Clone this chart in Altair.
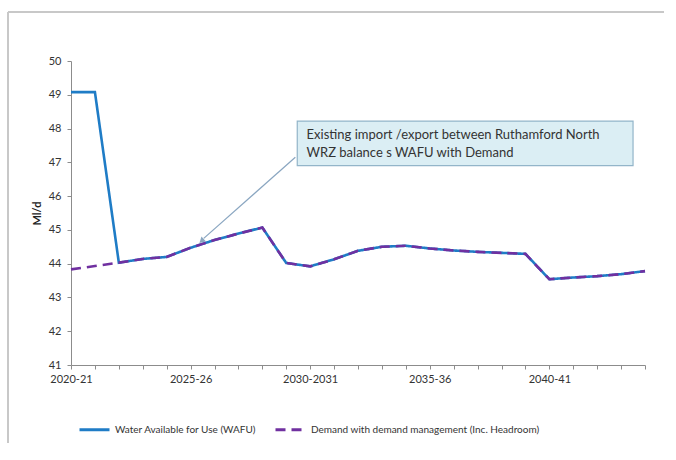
import altair as alt
import pandas as pd

# ---------------- data ----------------
year_labels = ["2020-21", "2021-22", "2022-23", "2023-24", "2024-25",
               "2025-26", "2026-27", "2027-28", "2028-29", "2029-30",
               "2030-2031", "2031-32", "2032-33", "2033-34", "2034-35",
               "2035-36", "2036-37", "2037-38", "2038-39", "2039-40",
               "2040-41", "2041-42", "2042-43", "2043-44", "2044-45"]

wafu = [49.08, 49.08, 44.03, 44.14, 44.20, 44.47, 44.70, 44.89, 45.07, 44.02,
        43.92, 44.13, 44.38, 44.50, 44.53, 44.45, 44.39, 44.35, 44.32, 44.29,
        43.54, 43.59, 43.63, 43.69, 43.78]

demand = [43.83, 43.93, 44.03, 44.14, 44.20, 44.47, 44.70, 44.89, 45.07, 44.02,
          43.92, 44.13, 44.38, 44.50, 44.53, 44.45, 44.39, 44.35, 44.32, 44.29,
          43.54, 43.59, 43.63, 43.69, 43.78]

series_names = ["Water Available for Use (WAFU)",
                "Demand with demand management (Inc. Headroom)"]

annotation_lines = ["Existing import /export between Ruthamford North",
                    "WRZ balance s WAFU with Demand"]

FONT = "Lato"
BLUE = "#1f7cc6"
PURPLE = "#7030a0"

idx = list(range(len(year_labels)))
df = pd.DataFrame({
    "idx": idx + idx,
    "value": wafu + demand,
    "series": [series_names[0]] * len(idx) + [series_names[1]] * len(idx),
})

W, H = 574, 304
xscale = alt.Scale(domain=[0, 24], nice=False, zero=False)
yscale = alt.Scale(domain=[41, 50], nice=False, zero=False)

arr = "[" + ",".join("'%s'" % l for l in year_labels) + "]"
label_expr = "datum.value % 5 == 0 ? " + arr + "[datum.value] : ''"

color_scale = alt.Scale(domain=series_names, range=[BLUE, PURPLE])
dash_scale = alt.Scale(domain=series_names, range=[[1, 0], [10, 6]])

x_axis = alt.Axis(values=idx, labelExpr=label_expr, grid=False, title=None,
                  labelFont=FONT, labelFontSize=11, labelColor="#333333",
                  domainColor="#8c8c8c", tickColor="#8c8c8c", tickSize=4,
                  labelPadding=4, labelFlush=False, labelOverlap=False)
y_axis = alt.Axis(values=list(range(41, 51)), grid=False, title="Ml/d",
                  labelFont=FONT, labelFontSize=11, labelColor="#333333",
                  labelOverlap=False,
                  domainColor="#8c8c8c", tickColor="#8c8c8c", tickSize=4,
                  labelPadding=6, titleFont=FONT, titleFontSize=11,
                  titleFontWeight="bold", titleColor="#222222",
                  titleX=-34, titleY=H / 2, titleAngle=-90,
                  titleAlign="center", titleBaseline="middle")

x_enc = alt.X("idx:Q", scale=xscale, title=None, axis=x_axis)
y_enc = alt.Y("value:Q", scale=yscale, title="Ml/d", axis=y_axis)

legend = alt.Legend(orient="none", legendX=7, legendY=352, direction="horizontal",
                    title=None, symbolType="stroke", symbolSize=900,
                    symbolStrokeWidth=3, labelFont=FONT, labelFontSize=10,
                    labelColor="#333333", columnPadding=12, labelLimit=400)

color_enc = alt.Color("series:N", scale=color_scale, legend=legend)
dash_enc = alt.StrokeDash("series:N", scale=dash_scale, legend=legend)

wafu_line = alt.Chart(df).transform_filter(
    alt.datum.series == series_names[0]
).mark_line(strokeWidth=2.6).encode(x=x_enc, y=y_enc, color=color_enc, strokeDash=dash_enc)

demand_line = alt.Chart(df).transform_filter(
    alt.datum.series == series_names[1]
).mark_line(strokeWidth=2.6).encode(x=x_enc, y=y_enc, color=color_enc, strokeDash=dash_enc)

# annotation (data coordinates, sharing the same scales/axes)
ax = alt.X("x:Q", scale=xscale, title=None, axis=x_axis)
ay = alt.Y("y:Q", scale=yscale, title="Ml/d", axis=y_axis)

box_df = pd.DataFrame({"x": [9.46], "x2": [23.5], "y": [48.22], "y2": [46.90]})
box = alt.Chart(box_df).mark_rect(fill="#dbeef4", stroke="#93b5c9", strokeWidth=1.2).encode(
    x=ax, x2="x2:Q", y=ay, y2="y2:Q")

text_df = pd.DataFrame({"x": [9.85, 9.85], "y": [47.80, 47.27], "t": annotation_lines})
text = alt.Chart(text_df).mark_text(align="left", baseline="middle", font=FONT,
                                    fontSize=13, color="#333333").encode(
    x=ax, y=ay, text="t:N")

arrow_df = pd.DataFrame({"x": [9.38], "y": [47.15], "x2": [5.55], "y2": [44.75]})
arrow = alt.Chart(arrow_df).mark_rule(color="#8aa6c1", strokeWidth=1.2).encode(
    x=ax, y=ay, x2="x2:Q", y2="y2:Q")

head_df = pd.DataFrame({"x": [5.49], "y": [44.69]})
head = alt.Chart(head_df).mark_point(shape="triangle", filled=True, size=45,
                                     color="#8aa6c1", opacity=1, angle=228).encode(
    x=ax, y=ay)

# outer frame (top and left edges only; the rest lies outside the picture)
frame_df = pd.DataFrame({"a": [0]})
frame_top = alt.Chart(frame_df).mark_rule(color="#c8c8c8", strokeWidth=2).encode(
    x=alt.value(-63), x2=alt.value(600), y=alt.value(-49))
frame_left = alt.Chart(frame_df).mark_rule(color="#c8c8c8", strokeWidth=2).encode(
    x=alt.value(-63), y=alt.value(-49), y2=alt.value(382))

chart = alt.layer(frame_top, frame_left, wafu_line, demand_line, box, text, arrow, head).properties(
    width=W, height=H,
    autosize=alt.AutoSizeParams(type="none"),
    padding={"left": 71, "top": 61, "right": 19, "bottom": 78},
    background="white",
).configure_view(stroke=None)

chart.save("out.html", embed_options={"renderer": "svg", "actions": False})
